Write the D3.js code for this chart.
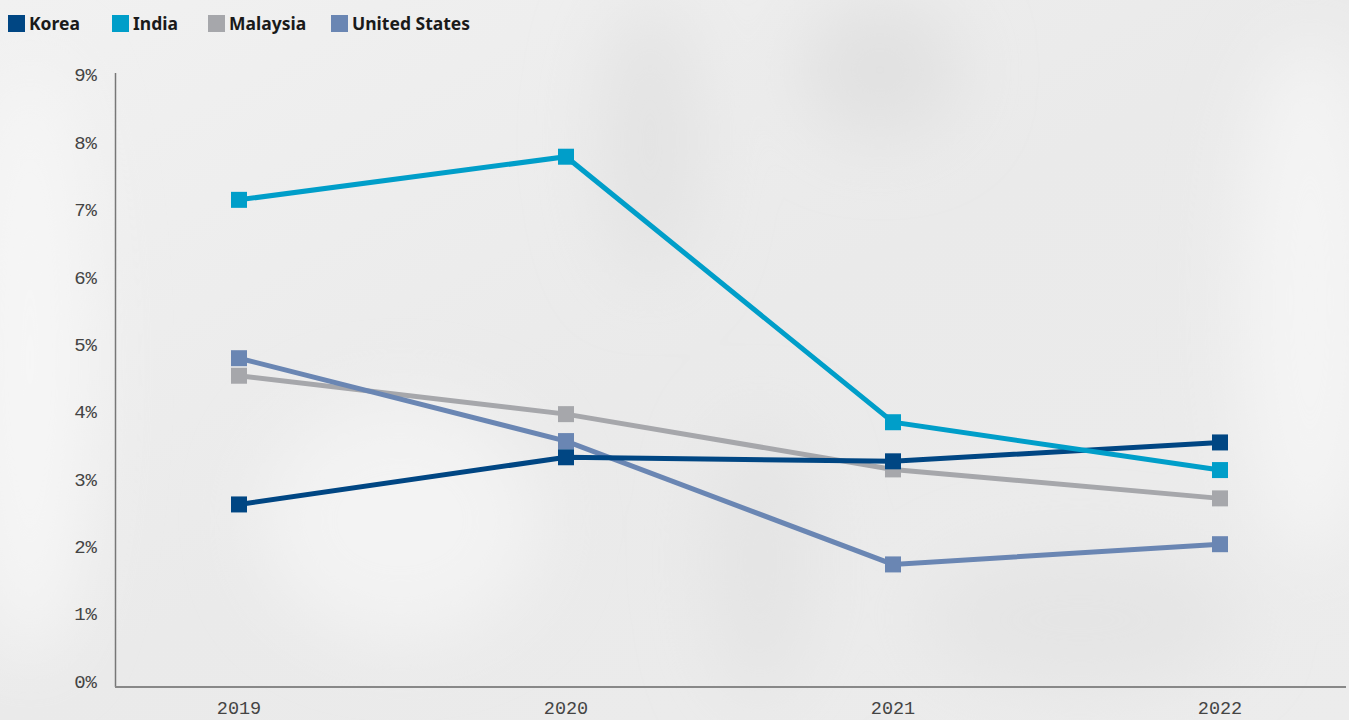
<!DOCTYPE html>
<html>
<head>
<meta charset="utf-8">
<script src="https://cdn.jsdelivr.net/npm/d3@7"></script>
<style>
html,body{margin:0;padding:0;background:#ececec;}
svg{display:block;}
</style>
</head>
<body>
<script>
const years = ["2019", "2020", "2021", "2022"];
const seriesNames = ["Korea", "India", "Malaysia", "United States"];
const korea = [2.62, 3.32, 3.26, 3.54];
const india = [7.14, 7.78, 3.84, 3.13];
const malaysia = [4.53, 3.96, 3.14, 2.71];
const unitedStates = [4.79, 3.56, 1.73, 2.03];
const yTicks = [0, 1, 2, 3, 4, 5, 6, 7, 8, 9];
const colors = ["#004683", "#009ec9", "#a6a7ab", "#6a86b3"];

const W = 1349, H = 720;
const svg = d3.select("body").append("svg").attr("width", W).attr("height", H);

// background approximation
const defs = svg.append("defs");
const bg = defs.append("linearGradient").attr("id","bg").attr("x1","0").attr("y1","0").attr("x2","1").attr("y2","1");
bg.append("stop").attr("offset","0").attr("stop-color","#f1f1f1");
bg.append("stop").attr("offset","0.5").attr("stop-color","#eaeaea");
bg.append("stop").attr("offset","1").attr("stop-color","#ececec");
svg.append("rect").attr("width",W).attr("height",H).attr("fill","url(#bg)");
const blur = defs.append("filter").attr("id","blur").attr("x","-50%").attr("y","-50%").attr("width","200%").attr("height","200%");
blur.append("feGaussianBlur").attr("stdDeviation", 35);
const blobs = svg.append("g").attr("filter","url(#blur)");
blobs.append("ellipse").attr("cx",30).attr("cy",360).attr("rx",60).attr("ry",300).attr("fill","#f6f6f6");
blobs.append("ellipse").attr("cx",1310).attr("cy",300).attr("rx",70).attr("ry",260).attr("fill","#f4f4f4");
blobs.append("ellipse").attr("cx",650).attr("cy",140).attr("rx",50).attr("ry",140).attr("fill","#e3e3e3");
blobs.append("ellipse").attr("cx",880).attr("cy",70).attr("rx",80).attr("ry",70).attr("fill","#e1e1e1");
blobs.append("ellipse").attr("cx",400).attr("cy",520).attr("rx",140).attr("ry",120).attr("fill","#f3f3f3");
blobs.append("ellipse").attr("cx",1080).attr("cy",620).attr("rx",160).attr("ry",70).attr("fill","#e5e5e5");
blobs.append("ellipse").attr("cx",760).attr("cy",560).attr("rx",50).attr("ry",140).attr("fill","#e4e4e4");

const x = d3.scalePoint().domain(years).range([239, 1220]);
const y = d3.scaleLinear().domain([0, 9]).range([681, 74.5]);

// axes lines
svg.append("line").attr("x1",115.5).attr("x2",115.5).attr("y1",y(9)-1.5).attr("y2",y(0)+6)
  .attr("stroke","#777").attr("stroke-width",1.5);
svg.append("line").attr("x1",115).attr("x2",1346).attr("y1",y(0)+6).attr("y2",y(0)+6)
  .attr("stroke","#888").attr("stroke-width",2);

// y tick labels
svg.append("g").selectAll("text").data(yTicks).join("text")
  .attr("x", 97).attr("y", d => y(d)).attr("dy","0.36em")
  .attr("text-anchor","end")
  .attr("font-family","'Liberation Mono', monospace").attr("font-size",19)
  .attr("fill","#444").text(d => d + "%");

// x tick labels
svg.append("g").selectAll("text").data(years).join("text")
  .attr("x", d => x(d)).attr("y", 708).attr("dy","0.33em")
  .attr("text-anchor","middle")
  .attr("font-family","'Liberation Mono', monospace").attr("font-size",18.5)
  .attr("fill","#444").text(d => d);

const allSeries = [korea, india, malaysia, unitedStates];
const line = d3.line().x((d,i) => x(years[i])).y(d => y(d));
const order = [2, 3, 0, 1];
order.forEach(si => {
  const vals = allSeries[si];
  const g = svg.append("g");
  g.append("path").datum(vals).attr("d", line).attr("fill","none")
    .attr("stroke", colors[si]).attr("stroke-width",5).attr("stroke-linejoin","miter");
  g.selectAll("rect").data(vals).join("rect")
    .attr("x",(d,i)=>x(years[i])-8).attr("y",d=>y(d)-8).attr("width",16).attr("height",16)
    .attr("fill",colors[si]);
});

// legend
const legendX = [8, 112, 208, 331];
const lg = svg.append("g");
seriesNames.forEach((n, i) => {
  lg.append("rect").attr("x", legendX[i]).attr("y", 15).attr("width", 17).attr("height", 17).attr("fill", colors[i]);
  lg.append("text").attr("x", legendX[i] + 21).attr("y", 23.5).attr("dy","0.36em")
    .attr("font-family","'Noto Sans', sans-serif").attr("font-weight","bold").attr("font-size",17.5)
    .attr("fill","#1a1a1a").text(n);
});
</script>
</body>
</html>
